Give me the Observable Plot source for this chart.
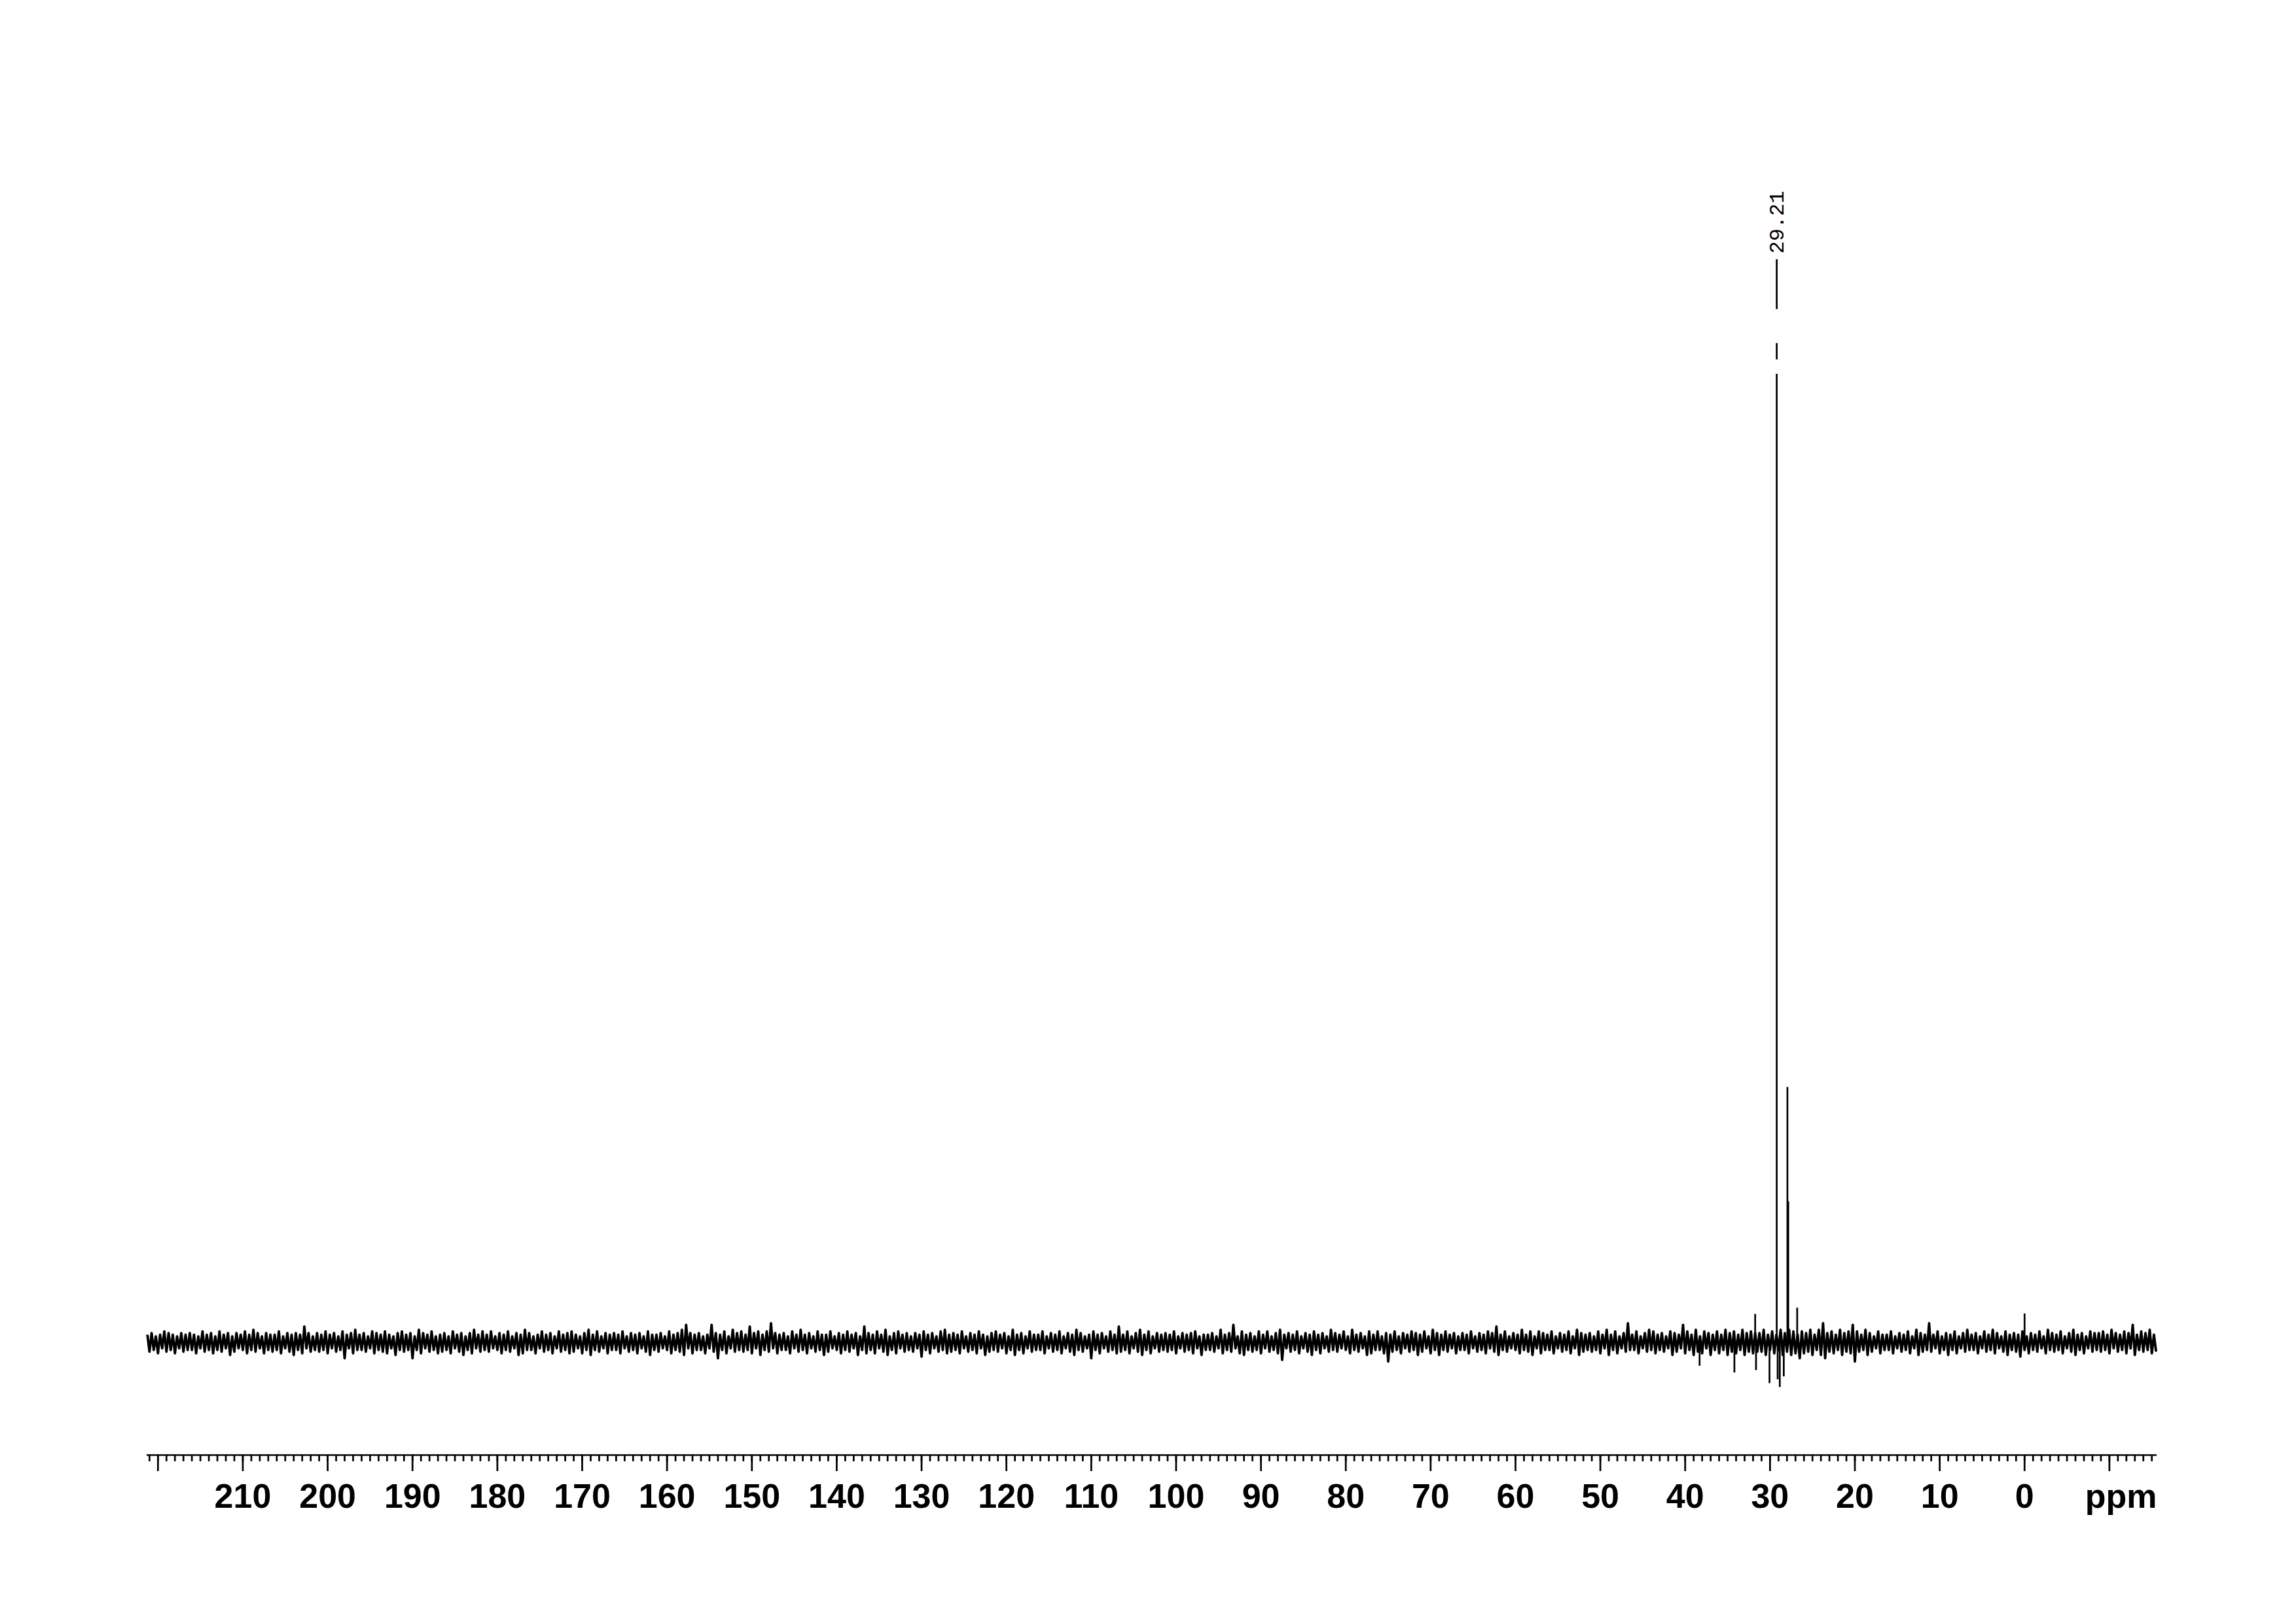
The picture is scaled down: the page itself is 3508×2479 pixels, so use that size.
<!DOCTYPE html>
<html>
<head>
<meta charset="utf-8">
<script src="https://cdn.jsdelivr.net/npm/d3@7"></script>
<script src="https://cdn.jsdelivr.net/npm/@observablehq/plot@0.6"></script>
<style>
  html, body { margin: 0; padding: 0; background: #fff; }
  #chart svg { display: block; }
</style>
</head>
<body>
<div id="chart"></div>
<script>
// ---------- DATA ----------
// chemical-shift window of the plot (ppm), left to right
const ppmLeft = 221.3;
const ppmRight = -15.6;
const yFloor = -11.7;   // intensity at the x-axis line (relative, main peak = 100)
const yTop = 100;

// resolved signals: shift (ppm) and relative intensity
const peakPpm = [29.21, 27.95, 27.85, 31.75, 26.8, 0.0, 31.65, 34.2, 38.3, 30.06, 29.1, 28.85, 28.38];
const peakIntensity = [100, 26.3, 14.5, 2.85, 3.5, 2.9, -2.95, -3.2, -2.5, -4.3, -3.9, -4.7, -3.6];

// picked-peak label
const labelPpm = [29.21];
const labelIntensity = [100];
const labelText = ["29.21"];

// baseline noise: one digit per 0.5 ppm, starting at 221.25 ppm
const noiseStart = 221.25;
const noiseStep = 0.5;
const noiseLevels = [0.40, 0.57, 0.74, 0.91, 1.08, 1.25, 1.42, 1.59, 1.76, 1.93];
const noiseDepths = [0.50, 0.67, 0.84, 1.01, 1.18, 1.35, 1.52, 1.69, 1.86, 2.03];
const noiseTop =
  "2312432132 3214231423 1324253132 2413232731 3242314235 2314324213 4231532412 3142313524 2413241325 3124231423 " +
  "4213524132 3241323142 2314235832 3128324153 4273424932 3142523142 2413242317 3242513423 1324231452 3241324213 " +
  "4231523142 2413241325 3124231427 2413524132 3241323412 2315238142 3142413523 2413242315 3241523142 4132413243 " +
  "2415324231 3241324372 4132524143 2413241532 3142524139 2413542314 3284251432 4253425343 3524253542 4352593425 " +
  "3484253142 2413241532 9241324135 2314253142 3241324153 2413523143 3425324382 4352";
const noiseBottom =
  "3241324132 2413242315 3124231423 2413524132 3241327142 2314234152 3272413243 2413524132 3124231542 2413241324 " +
  "3142523142 2413241352 3124235142 2413724132 3241523142 2413241325 3124231524 2413524132 3162413243 2413241532 " +
  "3142524132 2413241352 3172413243 2413524132 3241324152 2314231452 3241324813 2413524132 3124231542 2493241325 " +
  "3142523142 2413241352 3124235142 2413241532 3241524132 2413242315 3142534152 4253425343 3524253547 4352573425 " +
  "3493253142 2413241532 3142524132 2413241352 3624231423 2413524132 3241324152 3243";

// axis ticks
const majorTicks = [220, 210, 200, 190, 180, 170, 160, 150, 140, 130, 120, 110, 100, 90, 80, 70, 60, 50, 40, 30, 20, 10, 0, -10];
const labeledTicks = [210, 200, 190, 180, 170, 160, 150, 140, 130, 120, 110, 100, 90, 80, 70, 60, 50, 40, 30, 20, 10, 0];
const minorTicks = d3.range(221, -16, -1);
const unitLabel = ["ppm"];

// ---------- build tables ----------
const topD = noiseTop.replace(/\s/g, "");
const botD = noiseBottom.replace(/\s/g, "");
const noisePts = [];
for (let i = 0; i < Math.min(topD.length, botD.length); i++) {
  const p = noiseStart - i * noiseStep;
  noisePts.push({ppm: p, v: noiseLevels[+topD[i]]});
  noisePts.push({ppm: p - noiseStep / 2, v: -noiseDepths[+botD[i]]});
}
const peaks = peakPpm.map((p, i) => ({ppm: p, v: peakIntensity[i]}));
const labels = labelPpm.map((p, i) => ({ppm: p, v: labelIntensity[i], text: labelText[i]}));

const ink = "#000";
const lw = 2.7;
const labelSet = new Set(labeledTicks);

const chart = Plot.plot({
  width: 3508,
  height: 2479,
  marginLeft: 224,
  marginRight: 213,
  marginTop: 571,
  marginBottom: 257,
  style: {fontFamily: "'Liberation Sans', Arial, Helvetica, sans-serif", background: "#fff", color: ink},
  x: {domain: [ppmLeft, ppmRight], axis: null, label: null},
  y: {domain: [yFloor, yTop], axis: null, label: null},
  marks: [
    // baseline noise
    Plot.line(noisePts, {x: "ppm", y: "v", stroke: ink, strokeWidth: 3.8, strokeLinejoin: "round", strokeLinecap: "butt"}),
    // signals
    Plot.ruleX(peaks, {x: "ppm", y1: 0, y2: "v", stroke: ink, strokeWidth: lw}),
    // peak label leaders
    Plot.ruleX(labels, {x: "ppm", y1: "v", y2: "v", insetTop: -175, insetBottom: 99, stroke: ink, strokeWidth: lw}),
    Plot.ruleX(labels, {x: "ppm", y1: "v", y2: "v", insetTop: -47, insetBottom: 22, stroke: ink, strokeWidth: lw}),
    Plot.text(labels, {
      x: "ppm", y: "v", text: "text", rotate: -90, textAnchor: "start", lineAnchor: "middle",
      dy: -184, fontFamily: "'Liberation Mono', 'Courier New', monospace", fontSize: 32, fontWeight: "normal", fill: ink
    }),
    // x axis
    Plot.ruleY([yFloor], {stroke: ink, strokeWidth: lw}),
    Plot.axisX({ticks: minorTicks, tickSize: 10, text: null, label: null, stroke: ink, strokeWidth: lw}),
    Plot.axisX({
      ticks: majorTicks, tickSize: 25, tickPadding: 19, stroke: ink, strokeWidth: lw,
      tickFormat: d => labelSet.has(d) ? String(d) : "",
      fontSize: 52, fontWeight: "bold", fill: ink, label: null
    }),
    Plot.text(unitLabel, {
      text: d => d, frameAnchor: "bottom-right", textAnchor: "end", lineAnchor: "top",
      dy: 44, fontSize: 52, fontWeight: "bold", fill: ink
    })
  ]
});
document.getElementById("chart").appendChild(chart);
</script>
</body>
</html>
